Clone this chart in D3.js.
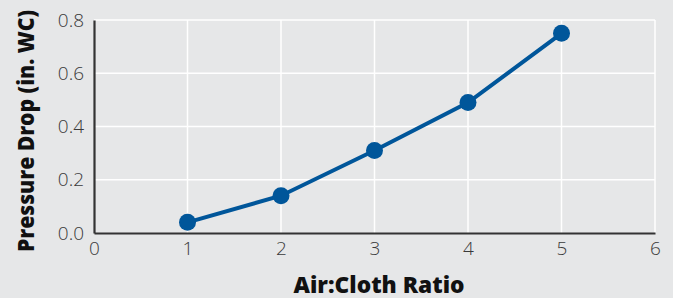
<!DOCTYPE html>
<html>
<head>
<meta charset="utf-8">
<script src="https://cdn.jsdelivr.net/npm/d3@7"></script>
<style>
  html, body { margin: 0; padding: 0; background: #e6e7e8; }
  svg { display: block; }
  .tick text { font-family: "Open Sans", "Noto Sans", sans-serif; font-weight: 300; fill: #3a3a3a; }
  .title { font-family: "Open Sans", "Noto Sans", sans-serif; font-weight: 800; fill: #111; }
</style>
</head>
<body>
<svg id="chart" width="673" height="298"></svg>
<script>
// air:cloth ratio vs pressure drop
const ratios = [1, 2, 3, 4, 5]
const pressureDrop = [0.04, 0.14, 0.31, 0.49, 0.75]
const xTicks = [0, 1, 2, 3, 4, 5, 6]
const yTicks = [0, 0.2, 0.4, 0.6, 0.8]

const w = 673
const h = 298
const margin = { left: 94, right: 18, top: 20, bottom: 65 }

const svg = d3.select("#chart")

const xScale = d3.scaleLinear()
  .domain([0, 6])
  .range([margin.left, w - margin.right])

const yScale = d3.scaleLinear()
  .domain([0, 0.8])
  .range([h - margin.bottom, margin.top])

// background grid
svg.append("g")
  .selectAll("line.vgrid")
  .data(xTicks.slice(1))
  .enter()
  .append("line")
  .attr("x1", d => xScale(d))
  .attr("x2", d => xScale(d))
  .attr("y1", yScale(0.8))
  .attr("y2", yScale(0))
  .attr("stroke", "#fff")
  .attr("stroke-width", 1.5)

svg.append("g")
  .selectAll("line.hgrid")
  .data(yTicks.slice(1))
  .enter()
  .append("line")
  .attr("x1", xScale(0))
  .attr("x2", xScale(6))
  .attr("y1", d => yScale(d))
  .attr("y2", d => yScale(d))
  .attr("stroke", "#fff")
  .attr("stroke-width", 1.5)

const xAxis = d3.axisBottom(xScale)
  .tickValues(xTicks)
  .tickSize(0)
  .tickPadding(8)
  .tickFormat(d3.format("d"))

const yAxis = d3.axisLeft(yScale)
  .tickValues(yTicks)
  .tickSize(0)
  .tickPadding(10)
  .tickFormat(d3.format(".1f"))

const gx = svg.append("g")
  .attr("transform", `translate(0, ${yScale(0)})`)
  .call(xAxis)
gx.select(".domain").attr("stroke", "#333").attr("stroke-width", 2.2)
gx.selectAll(".tick text").attr("font-size", 19).attr("dy", "0.75em")

const gy = svg.append("g")
  .attr("transform", `translate(${xScale(0)}, 0)`)
  .call(yAxis)
gy.select(".domain").attr("stroke", "#333").attr("stroke-width", 2.2)
gy.selectAll(".tick text").attr("font-size", 19)

// line + markers
const line = d3.line()
  .x((d, i) => xScale(ratios[i]))
  .y(d => yScale(d))

svg.append("path")
  .datum(pressureDrop)
  .attr("d", line)
  .attr("fill", "none")
  .attr("stroke", "#00569a")
  .attr("stroke-width", 4)

svg.selectAll("circle")
  .data(pressureDrop)
  .enter()
  .append("circle")
  .attr("cx", (d, i) => xScale(ratios[i]))
  .attr("cy", d => yScale(d))
  .attr("r", 8.5)
  .attr("fill", "#00569a")

// axis titles
svg.append("text")
  .attr("class", "title")
  .attr("x", 379)
  .attr("y", 293)
  .attr("text-anchor", "middle")
  .attr("font-size", 22)
  .attr("textLength", 171)
  .attr("lengthAdjust", "spacingAndGlyphs")
  .text("Air:Cloth Ratio")

svg.append("text")
  .attr("class", "title")
  .attr("transform", "translate(34, 131) rotate(-90)")
  .attr("text-anchor", "middle")
  .attr("font-size", 22)
  .attr("textLength", 242)
  .attr("lengthAdjust", "spacingAndGlyphs")
  .text("Pressure Drop (in. WC)")
</script>
</body>
</html>
